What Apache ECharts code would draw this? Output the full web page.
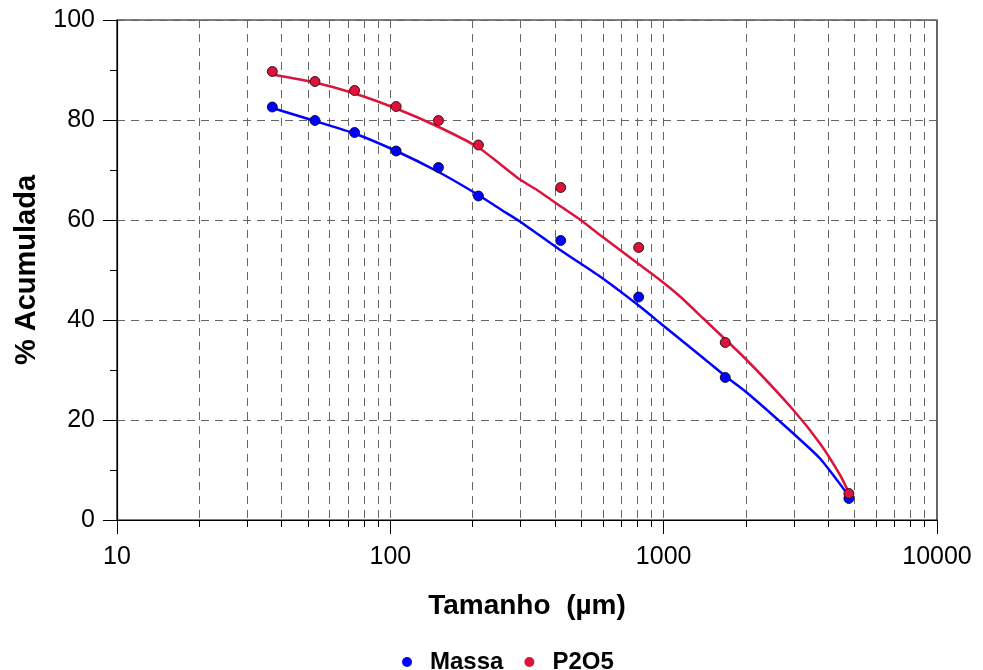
<!DOCTYPE html>
<html>
<head>
<meta charset="utf-8">
<script src="https://cdn.jsdelivr.net/npm/echarts@6/dist/echarts.min.js"></script>
<style>html,body{margin:0;padding:0;background:#fff}#c{width:983px;height:670px}</style>
</head>
<body>
<div id="c"></div>
<script>
// ---- data ----
var sizes = [37, 53, 74, 105, 150, 210, 420, 810, 1680, 4760];
var massa = [82.6, 79.9, 77.5, 73.8, 70.5, 64.8, 55.9, 44.6, 28.5, 4.3];
var p2o5  = [89.7, 87.7, 85.9, 82.7, 79.9, 75.0, 66.5, 54.5, 35.5, 5.3];

// fitted curves
var massaFitX = [37, 53, 74, 105, 149, 210, 252, 298, 418, 585, 819, 970, 1396, 1687, 2013, 2981, 3733, 4777];
var massaFitY = [82.4, 79.8, 77.3, 73.8, 69.7, 65.0, 62.2, 59.7, 54.0, 48.7, 42.7, 39.4, 32.4, 28.7, 25.5, 17.3, 12.3, 4.7];
var p2o5FitX = [37, 53, 74, 105, 149, 210, 252, 298, 353, 418, 494, 585, 819, 970, 1148, 1396, 2013, 2981, 3733, 4418, 4777];
var p2o5FitY = [89.1, 87.5, 85.3, 82.3, 78.7, 74.5, 71.2, 68.1, 65.6, 62.8, 60.1, 57.0, 51.0, 48.0, 44.7, 40.3, 32.0, 22.0, 15.3, 9.0, 5.3];

var xMajor = [10, 100, 1000, 10000];
var xMinor = [20, 30, 40, 50, 60, 70, 80, 90, 200, 300, 400, 500, 600, 700, 800, 900, 2000, 3000, 4000, 5000, 6000, 7000, 8000, 9000];

var FONT = "'Liberation Sans', Arial, Helvetica, sans-serif";
function zip(a, b) { return a.map(function (v, i) { return [v, b[i]]; }); }

var chart = echarts.init(document.getElementById('c'), null, { renderer: 'canvas' });
var gridLine = { show: true, lineStyle: { color: '#666', width: 1, type: [8, 6] } };

chart.setOption({
  animation: false,
  backgroundColor: '#fff',
  grid: { left: 117, right: 46, top: 20, bottom: 150, show: true, borderColor: '#000', borderWidth: 1.2, backgroundColor: 'transparent' },
  legend: {
    data: ['Massa', 'P2O5'],
    left: 397, top: 645,
    icon: 'circle', itemWidth: 36, itemHeight: 10, itemGap: 21,
    itemStyle: { borderWidth: 0 },
    textStyle: { fontFamily: FONT, fontSize: 24, fontWeight: 'bold', color: '#000' }
  },
  xAxis: [{
    type: 'log', logBase: 10, min: 10, max: 10000,
    name: 'Tamanho  (µm)', nameLocation: 'middle', nameGap: 72,
    nameTextStyle: { fontFamily: FONT, fontSize: 28, fontWeight: 'bold', color: '#000' },
    axisLine: { show: true, lineStyle: { color: '#000', width: 1.2 } },
    axisTick: { show: true, inside: false, length: 14, customValues: xMajor, lineStyle: { color: '#000', width: 1 } },
    axisLabel: { show: true, margin: 25, customValues: xMajor, fontFamily: FONT, fontSize: 25, color: '#000',
      formatter: function (v) { return String(Math.round(v)); } },
    splitLine: gridLine,
    minorTick: { show: false }, minorSplitLine: { show: false }
  }, {
    type: 'log', logBase: 10, min: 10, max: 10000, position: 'bottom', gridIndex: 0,
    axisLine: { show: false },
    axisTick: { show: true, inside: false, length: 7, customValues: xMinor, lineStyle: { color: '#000', width: 1 } },
    axisLabel: { show: false },
    splitLine: gridLine
  }],
  yAxis: {
    type: 'value', min: 0, max: 100, interval: 20,
    name: '% Acumulada', nameLocation: 'middle', nameGap: 76,
    nameTextStyle: { fontFamily: FONT, fontSize: 29, fontWeight: 'bold', color: '#000' },
    axisLine: { show: true, lineStyle: { color: '#000', width: 1.2 } },
    axisTick: { show: true, inside: false, length: 14, lineStyle: { color: '#000', width: 1 } },
    minorTick: { show: true, splitNumber: 2, length: 7, lineStyle: { color: '#000', width: 1 } },
    axisLabel: { margin: 22, fontFamily: FONT, fontSize: 25, color: '#000' },
    splitLine: gridLine
  },
  series: [
    { name: 'Massa ajuste', type: 'line', xAxisIndex: 0, data: zip(massaFitX, massaFitY), smooth: 0.2, showSymbol: false, silent: true,
      lineStyle: { color: '#0000ff', width: 2.5 }, z: 3 },
    { name: 'P2O5 ajuste', type: 'line', xAxisIndex: 0, data: zip(p2o5FitX, p2o5FitY), smooth: 0.2, showSymbol: false, silent: true,
      lineStyle: { color: '#dc143c', width: 2.5 }, z: 3 },
    { name: 'Massa', type: 'scatter', xAxisIndex: 0, data: zip(sizes, massa), symbol: 'circle', symbolSize: 10,
      itemStyle: { color: '#0000ff', borderColor: '#000', borderWidth: 0.8, opacity: 1 }, z: 5 },
    { name: 'P2O5', type: 'scatter', xAxisIndex: 0, data: zip(sizes, p2o5), symbol: 'circle', symbolSize: 10,
      itemStyle: { color: '#dc143c', borderColor: '#000', borderWidth: 0.8, opacity: 1 }, z: 5 }
  ]
});
</script>
</body>
</html>
